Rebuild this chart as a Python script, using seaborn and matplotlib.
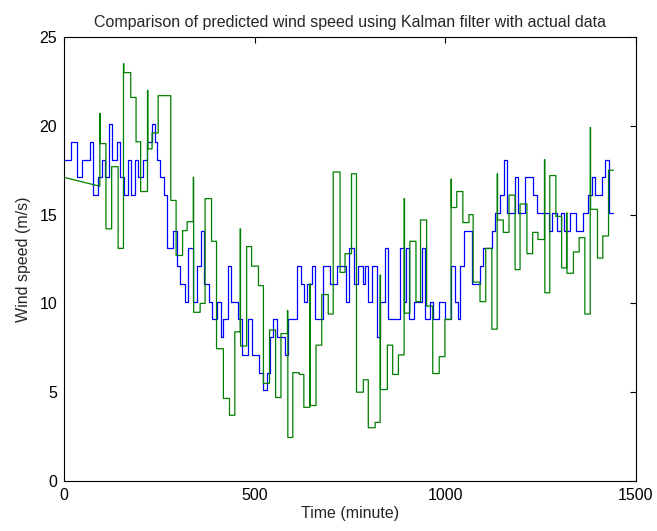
import matplotlib
matplotlib.use("Agg")
import matplotlib.pyplot as plt
import seaborn as sns
import pandas as pd

# actual wind speed: minute where a new value starts, value
actual_t = [0, 18, 33, 47, 68, 77, 88, 99, 107, 119, 127, 140, 147, 157, 169, 176, 186, 193,
            208, 218, 230, 238, 245, 252, 262, 269, 287, 297, 305, 317, 326, 339, 348, 358,
            368, 379, 389, 402, 411, 418, 429, 438, 457, 466, 483, 492, 512, 521, 532, 539,
            549, 559, 579, 588, 610, 621, 629, 638, 650, 658, 678, 698, 715, 740, 748, 761,
            772, 785, 790, 798, 809, 822, 829, 842, 851, 881, 892, 897, 904, 919, 938, 948,
            960, 969, 983, 999, 1014, 1025, 1032, 1039, 1050, 1071, 1091, 1100, 1122, 1130,
            1143, 1155, 1163, 1183, 1191, 1209, 1231, 1241, 1273, 1281, 1292, 1303, 1311,
            1327, 1343, 1362, 1373, 1384, 1393, 1410, 1419, 1430]
actual_v = [18.1, 19.1, 17.1, 18.1, 19.1, 16.1, 17.1, 18.1, 17.1, 20.1, 18.1, 19.1, 17.1, 16.1,
            18.1, 16.1, 18.1, 17.1, 18.1, 19.1, 20.1, 19.1, 18.1, 17.1, 16.1, 13.1, 14.1, 12.1,
            11.1, 10.1, 13.1, 10.1, 12.1, 14.1, 11.1, 10.1, 9.1, 10.1, 8.1, 9.1, 12.1, 10.1,
            9.1, 7.1, 9.1, 7.1, 6.1, 5.1, 6.1, 8.1, 9.1, 8.1, 7.1, 9.1, 12.1, 11.1, 10.1, 11.1,
            12.1, 9.1, 12.1, 11.1, 12.1, 10.1, 13.1, 11.1, 12.1, 11.1, 12.1, 10.1, 12.1, 8.1,
            10.1, 13.1, 9.1, 13.1, 10.1, 13.1, 9.1, 10.1, 13.1, 9.1, 10.1, 9.1, 10.1, 9.1, 12.1,
            10.1, 9.1, 12.1, 14.1, 11.1, 12.1, 13.1, 14.1, 15.1, 16.1, 18.1, 15.1, 17.1, 15.1,
            17.1, 16.1, 15.1, 14.1, 15.1, 14.1, 15.1, 14.1, 15.1, 14.1, 15.1, 16.1, 17.1, 16.1,
            17.1, 18.1, 15.1]
actual_end = 1440

# predicted wind speed (Kalman filter)
pred_head_t = [0, 94]
pred_head_v = [17.1, 16.6]
pred_t = [94, 95, 110, 125, 142, 156, 157, 175, 189, 201, 219, 220, 231, 247, 280, 294, 311,
          323, 339, 340, 357, 370, 387, 400, 418, 434, 448, 462, 463, 479, 492, 510, 523, 539,
          555, 569, 586, 587, 600, 617, 629, 645, 646, 661, 676, 693, 706, 724, 737, 754, 767,
          785, 798, 816, 829, 830, 848, 862, 877, 892, 893, 907, 923, 935, 951, 967, 984, 999,
          1015, 1016, 1030, 1046, 1062, 1073, 1091, 1106, 1122, 1136, 1137, 1152, 1167, 1183,
          1196, 1214, 1229, 1243, 1260, 1261, 1274, 1290, 1305, 1318, 1319, 1336, 1351, 1366,
          1380, 1381, 1399, 1413, 1428]
pred_v = [20.7, 19.0, 14.2, 17.7, 13.1, 23.5, 23.0, 21.6, 19.1, 16.3, 22.0, 18.7, 19.6, 21.7,
          15.8, 12.7, 14.1, 14.6, 17.1, 9.5, 10.0, 15.9, 13.5, 7.45, 4.65, 3.7, 8.4, 14.2, 7.6,
          13.2, 12.1, 11.0, 5.5, 8.5, 4.7, 8.3, 9.6, 2.45, 6.1, 6.0, 4.15, 11.1, 4.25, 7.65,
          10.5, 9.4, 17.4, 11.75, 12.8, 17.3, 5.0, 5.7, 3.0, 3.3, 11.6, 5.15, 7.65, 6.0, 7.1,
          15.9, 9.45, 13.5, 10.1, 14.7, 9.85, 6.05, 7.0, 9.1, 17.0, 15.4, 16.3, 14.55, 15.0,
          11.2, 10.1, 13.1, 8.55, 17.3, 14.7, 14.0, 16.1, 11.9, 15.6, 12.8, 14.0, 13.6, 18.1,
          10.6, 17.2, 14.9, 12.0, 15.1, 11.7, 12.9, 13.7, 9.4, 19.9, 15.3, 12.55, 13.8, 17.5]
pred_end = 1441


def step_path(t, v, end):
    xs, ys = [], []
    for i in range(len(t)):
        t1 = t[i + 1] if i + 1 < len(t) else end
        xs += [t[i], t1]
        ys += [v[i], v[i]]
    return xs, ys


ax_t, ax_v = step_path(actual_t, actual_v, actual_end)
pt, pv = step_path(pred_t, pred_v, pred_end)
actual = pd.DataFrame({"t": ax_t, "v": ax_v})
pred = pd.DataFrame({"t": pred_head_t + pt, "v": pred_head_v + pv})

sns.set_style("white")
plt.rcParams["font.family"] = ["Liberation Sans", "DejaVu Sans"]

fig = plt.figure(figsize=(6.57, 5.31), dpi=100)
ax = fig.add_axes([0.0974, 0.0942, 0.8706, 0.836])
sns.lineplot(data=actual, x="t", y="v", sort=False, estimator=None, color="#0000ff",
             linewidth=0.9, ax=ax)
sns.lineplot(data=pred, x="t", y="v", sort=False, estimator=None, color="#008000",
             linewidth=0.9, ax=ax)

ax.set_xlim(0, 1500)
ax.set_ylim(0, 25)
ax.set_xticks([0, 500, 1000, 1500])
ax.set_yticks([0, 5, 10, 15, 20, 25])
ax.tick_params(direction="in", top=True, right=True, length=4, width=0.8,
               labelsize=11.5, colors="black", pad=5)
for s in ax.spines.values():
    s.set_color("black")
    s.set_linewidth(0.8)
ax.set_title("Comparison of predicted wind speed using Kalman filter with actual data",
             fontsize=11.5, pad=7)
ax.set_xlabel("Time (minute)", fontsize=11.5, labelpad=2)
ax.set_ylabel("Wind speed (m/s)", fontsize=11.5, labelpad=6)

fig.savefig("out.png", dpi=100, facecolor="white")
